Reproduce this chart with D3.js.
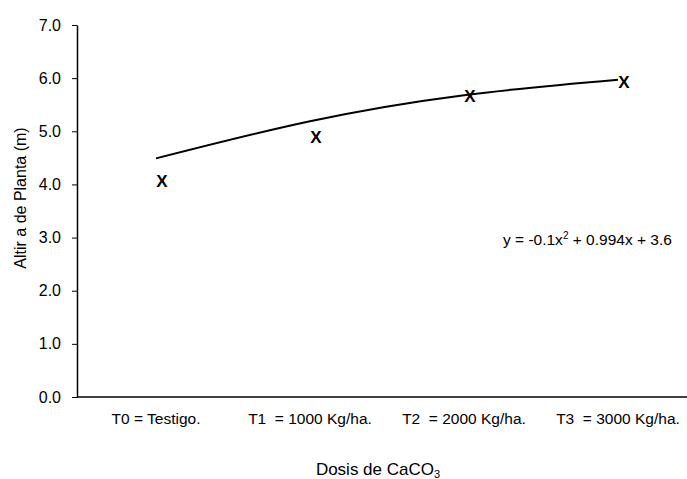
<!DOCTYPE html>
<html lang="es">
<head>
  <meta charset="UTF-8">
  <title>Altura de planta vs dosis de CaCO3</title>
  <script src="https://d3js.org/d3.v7.min.js"></script>
  <style>
    body {
      margin: 0;
      background: #fff;
    }
    svg text {
      font-family: "Liberation Sans", Arial, sans-serif;
      fill: #000;
    }
    .axis path,
    .axis line {
      stroke: #000;
    }
  </style>
</head>
<body>
  <svg id="chart" width="687" height="479"></svg>

  <script>
    // categorias del eje x
    const categories = ["T0 = Testigo.", "T1  = 1000 Kg/ha.", "T2  = 2000 Kg/ha.", "T3  = 3000 Kg/ha."];
    // alturas observadas (marcadores X)
    const observed = [4.06, 4.89, 5.66, 5.93];
    // linea de tendencia polinomica
    const trend = [4.49, 5.19, 5.68, 5.97];
    const yTicks = [0, 1, 2, 3, 4, 5, 6, 7];

    const svg = d3.select("#chart");

    const x = d3.scalePoint()
      .domain(categories)
      .range([156, 618]);

    const y = d3.scaleLinear()
      .domain([0, 7])
      .range([397, 25]);

    // eje y
    const yAxis = svg.append("g")
      .attr("class", "axis")
      .attr("transform", "translate(77,0)")
      .call(d3.axisLeft(y).tickValues(yTicks).tickFormat(d3.format(".1f")).tickSize(5).tickSizeOuter(0));
    yAxis.select(".domain").attr("stroke-width", 1.5);
    yAxis.selectAll("text")
      .attr("x", -16)
      .style("font-size", "16px");

    // eje x (solo la linea base)
    svg.append("line")
      .attr("x1", 77).attr("x2", 687)
      .attr("y1", y(0)).attr("y2", y(0))
      .attr("stroke", "#000")
      .attr("stroke-width", 1.5);

    // etiquetas de categoria
    svg.append("g")
      .selectAll("text")
      .data(categories)
      .join("text")
      .attr("x", d => x(d))
      .attr("y", 424)
      .attr("text-anchor", "middle")
      .style("font-size", "15.5px")
      .style("white-space", "pre")
      .text(d => d);

    // linea de tendencia
    const line = d3.line()
      .x((d, i) => x(categories[i]))
      .y(d => y(d))
      .curve(d3.curveNatural);

    svg.append("path")
      .datum(trend)
      .attr("fill", "none")
      .attr("stroke", "#000")
      .attr("stroke-width", 2)
      .attr("d", line);

    // marcadores X
    svg.append("g")
      .selectAll("text")
      .data(observed)
      .join("text")
      .attr("x", (d, i) => x(categories[i]) + 6)
      .attr("y", d => y(d) + 6)
      .attr("text-anchor", "middle")
      .style("font-size", "17px")
      .style("font-weight", "bold")
      .text("X");

    // ecuacion
    const eq = svg.append("text")
      .attr("x", 503)
      .attr("y", 245)
      .style("font-size", "15.5px");
    eq.append("tspan").text("y = -0.1x");
    eq.append("tspan").attr("dy", -6).style("font-size", "10px").text("2");
    eq.append("tspan").attr("dy", 6).text(" + 0.994x + 3.6");

    // titulos
    svg.append("text")
      .attr("transform", "translate(26,198) rotate(-90)")
      .attr("text-anchor", "middle")
      .style("font-size", "16px")
      .text("Altir a de Planta (m)");

    const xt = svg.append("text")
      .attr("x", 378)
      .attr("y", 475)
      .attr("text-anchor", "middle")
      .style("font-size", "17px");
    xt.append("tspan").text("Dosis de CaCO");
    xt.append("tspan").attr("dy", 3).style("font-size", "11px").text("3");
  </script>
</body>
</html>
